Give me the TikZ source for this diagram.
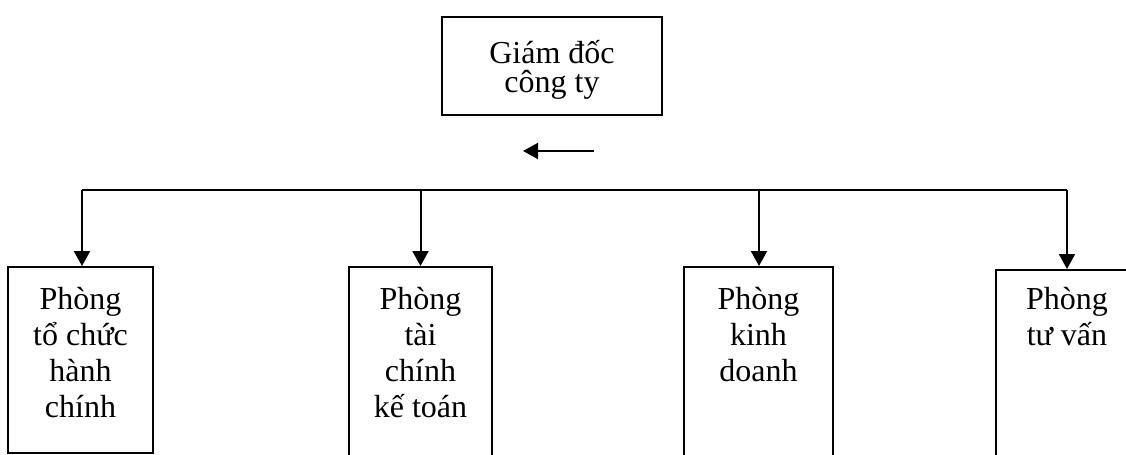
\documentclass[tikz,border=0pt]{standalone}
\usepackage{fontspec}
\setmainfont{Liberation Serif}
\usetikzlibrary{arrows.meta}
\begin{document}
\begin{tikzpicture}[x=0.5pt,y=-0.5pt,
  box/.style={draw,line width=1pt,rectangle,inner sep=0pt},
  txt/.style={inner sep=0pt,anchor=north,align=center,font=\fontsize{16}{18}\selectfont},
  line/.style={line width=1pt},
  arr/.style={line width=1pt,-{Triangle[length=7.5pt,width=8pt]}}]
\useasboundingbox (0,0) rectangle (1126,455);
\clip (0,0) rectangle (1126,455);
% top box
\node[box,minimum width=110pt,minimum height=49pt] (gd) at (552,66) {};
\node[txt,font=\fontsize{16}{14.5}\selectfont] (gdt) at (552,40) {Giám đốc\\công ty};
% small arrow
\coordinate (sa) at (594,151);
\coordinate (sb) at (523,151);
\draw[arr] (sa) -- (sb);
% department boxes
\node[box,minimum width=72.5pt,minimum height=93pt] (b1) at (80.5,360) {};
\node[box,minimum width=71.5pt,minimum height=110pt] (b2) at (420.5,377) {};
\node[box,minimum width=74.5pt,minimum height=110pt] (b3) at (758.5,377) {};
\node[box,minimum width=71pt,minimum height=110pt] (b4) at (1067,380) {};
\node[txt] (t1) at (80.5,287) {Phòng\\tổ chức\\hành\\chính};
\node[txt] (t2) at (420.5,287) {Phòng\\tài\\chính\\kế toán};
\node[txt] (t3) at (758.5,287) {Phòng\\kinh\\doanh};
\node[txt] (t4) at (1067,287) {Phòng\\tư vấn};
% bus
\coordinate (c1) at (82,190);
\coordinate (c2) at (420.5,190);
\coordinate (c3) at (759,190);
\coordinate (c4) at (1067,190);
\draw[line] (c1) -- (c4);
\draw[arr] (c1) -- (c1 |- b1.north);
\draw[arr] (c2) -- (b2.north);
\draw[arr] (c3) -- (c3 |- b3.north);
\draw[arr] (c4) -- (b4.north);
\end{tikzpicture}
\end{document}
